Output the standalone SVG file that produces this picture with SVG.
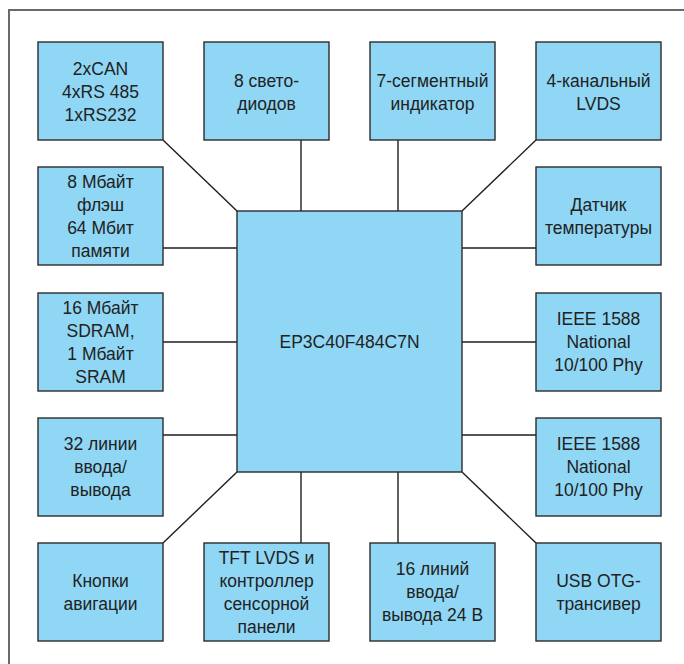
<svg xmlns="http://www.w3.org/2000/svg" width="684" height="664" viewBox="0 0 684 664">
<style>
.frame{fill:none;stroke:#6a6a6a;stroke-width:2}
.box{fill:#8fd7f5;stroke:#2b2b2b;stroke-width:1.4}
.ln{stroke:#1e1e1e;stroke-width:1.4;fill:none}
text{font-family:"Liberation Sans","DejaVu Sans",sans-serif;font-size:17.5px;fill:#222;text-anchor:middle}
</style>
<rect x="0" y="0" width="684" height="664" fill="#fff"/>
<rect class="frame" x="9" y="10" width="700" height="680"/>
<g id="connectors">
<line class="ln" x1="163" y1="140" x2="237" y2="211"/>
<line class="ln" x1="301" y1="140" x2="301" y2="211"/>
<line class="ln" x1="398" y1="140" x2="398" y2="211"/>
<line class="ln" x1="536" y1="140" x2="462" y2="211"/>
<line class="ln" x1="163" y1="248" x2="237" y2="248"/>
<line class="ln" x1="163" y1="342" x2="237" y2="342"/>
<line class="ln" x1="163" y1="435" x2="237" y2="435"/>
<line class="ln" x1="462" y1="248" x2="536" y2="248"/>
<line class="ln" x1="462" y1="342" x2="536" y2="342"/>
<line class="ln" x1="462" y1="435" x2="536" y2="435"/>
<line class="ln" x1="163" y1="543" x2="237" y2="472"/>
<line class="ln" x1="301" y1="472" x2="301" y2="543"/>
<line class="ln" x1="398" y1="472" x2="398" y2="543"/>
<line class="ln" x1="462" y1="472" x2="536" y2="543"/>
</g>
<g id="cpu">
<rect class="box" x="237" y="211" width="225" height="261"/>
<text x="349.5" y="348">EP3C40F484C7N</text>
</g>
<g id="n1">
<rect class="box" x="38" y="42" width="125" height="98"/>
<text x="100.5" y="75">2xCAN</text><text x="100.5" y="98">4xRS 485</text><text x="100.5" y="121">1xRS232</text>
</g>
<g id="n2">
<rect class="box" x="204" y="42" width="125" height="98"/>
<text x="266.5" y="86.5">8 свето-</text><text x="266.5" y="109.5">диодов</text>
</g>
<g id="n3">
<rect class="box" x="370" y="42" width="125" height="98"/>
<text x="432.5" y="86.5">7-сегментный</text><text x="432.5" y="109.5">индикатор</text>
</g>
<g id="n4">
<rect class="box" x="536" y="42" width="125" height="98"/>
<text x="598.5" y="86.5">4-канальный</text><text x="598.5" y="109.5">LVDS</text>
</g>
<g id="n5">
<rect class="box" x="38" y="167" width="125" height="98"/>
<text x="100.5" y="188">8 Мбайт</text><text x="100.5" y="211">флэш</text><text x="100.5" y="234">64 Мбит</text><text x="100.5" y="257">памяти</text>
</g>
<g id="n6">
<rect class="box" x="536" y="167" width="125" height="98"/>
<text x="598.5" y="210.5">Датчик</text><text x="598.5" y="233.5">температуры</text>
</g>
<g id="n7">
<rect class="box" x="38" y="293" width="125" height="98"/>
<text x="100.5" y="313.5">16 Мбайт</text><text x="100.5" y="336.5">SDRAM,</text><text x="100.5" y="359.5">1 Мбайт</text><text x="100.5" y="382.5">SRAM</text>
</g>
<g id="n8">
<rect class="box" x="536" y="293" width="125" height="98"/>
<text x="598.5" y="325">IEEE 1588</text><text x="598.5" y="348">National</text><text x="598.5" y="371">10/100 Phy</text>
</g>
<g id="n9">
<rect class="box" x="38" y="418" width="125" height="98"/>
<text x="100.5" y="450">32 линии</text><text x="100.5" y="473">ввода/</text><text x="100.5" y="496">вывода</text>
</g>
<g id="n10">
<rect class="box" x="536" y="418" width="125" height="98"/>
<text x="598.5" y="450">IEEE 1588</text><text x="598.5" y="473">National</text><text x="598.5" y="496">10/100 Phy</text>
</g>
<g id="n11">
<rect class="box" x="38" y="543" width="125" height="98"/>
<text x="100.5" y="586.5">Кнопки</text><text x="100.5" y="609.5">авигации</text>
</g>
<g id="n12">
<rect class="box" x="204" y="543" width="125" height="98"/>
<text x="266.5" y="563.5">TFT LVDS и</text><text x="266.5" y="586.5">контроллер</text><text x="266.5" y="609.5">сенсорной</text><text x="266.5" y="632.5">панели</text>
</g>
<g id="n13">
<rect class="box" x="370" y="543" width="125" height="98"/>
<text x="432.5" y="575">16 линий</text><text x="432.5" y="598">ввода/</text><text x="432.5" y="621">вывода 24 В</text>
</g>
<g id="n14">
<rect class="box" x="536" y="543" width="125" height="98"/>
<text x="598.5" y="586.5">USB OTG-</text><text x="598.5" y="609.5">трансивер</text>
</g>
</svg>
